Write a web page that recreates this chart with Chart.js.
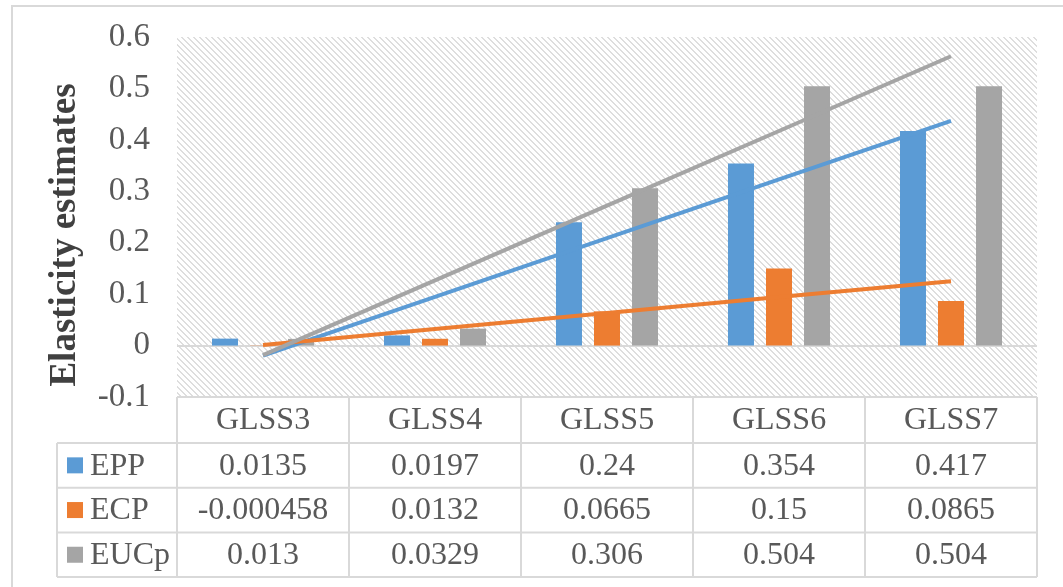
<!DOCTYPE html>
<html>
<head>
<meta charset="utf-8">
<script src="https://cdn.jsdelivr.net/npm/chart.js@4.4.1/dist/chart.umd.min.js"></script>
<style>
  body { margin: 0; background: #fff; }
  #wrap { position: relative; width: 1063px; height: 587px; overflow: hidden; }
  #frame { position: absolute; left: 11px; top: 5px; width: 1200px; height: 700px; border: 2px solid #d9d9d9; }
  #myChart { position: absolute; left: 0; top: 0; }
</style>
</head>
<body>
<div id="wrap">
  <div id="frame"></div>
  <canvas id="myChart" width="1063" height="587"></canvas>
</div>
<script>
const categories = ['GLSS3', 'GLSS4', 'GLSS5', 'GLSS6', 'GLSS7'];
const seriesNames = ['EPP', 'ECP', 'EUCp'];
const eppValues = [0.0135, 0.0197, 0.24, 0.354, 0.417];
const ecpValues = [-0.000458, 0.0132, 0.0665, 0.15, 0.0865];
const eucpValues = [0.013, 0.0329, 0.306, 0.504, 0.504];
// table text exactly as printed
const eppLabels = ['0.0135', '0.0197', '0.24', '0.354', '0.417'];
const ecpLabels = ['-0.000458', '0.0132', '0.0665', '0.15', '0.0865'];
const eucpLabels = ['0.013', '0.0329', '0.306', '0.504', '0.504'];
const yTitle = 'Elasticity estimates';

const colors = ['#5b9bd5', '#ed7d31', '#a5a5a5'];
const textColor = '#595959';
const lineColor = '#d9d9d9';
const serif = "'Liberation Serif', 'Times New Roman', serif";

// linear trendline (least squares, x = 1..n) like Excel
function trend(values) {
  const n = values.length;
  const xs = values.map((v, i) => i + 1);
  const mx = xs.reduce((a, b) => a + b, 0) / n;
  const my = values.reduce((a, b) => a + b, 0) / n;
  let sxy = 0, sxx = 0;
  xs.forEach((x, i) => { sxy += (x - mx) * (values[i] - my); sxx += (x - mx) * (x - mx); });
  const slope = sxy / sxx;
  return xs.map(x => my + slope * (x - mx));
}

// hatched background ("light downward diagonal")
function makePattern(ctx) {
  const c = document.createElement('canvas');
  c.width = 6; c.height = 6;
  const p = c.getContext('2d');
  p.fillStyle = '#fff';
  p.fillRect(0, 0, 6, 6);
  p.fillStyle = '#dedede';
  for (let y = 0; y < 6; y++) {
    p.fillRect(y % 6, y, 1, 1);
    p.fillRect((y + 1) % 6, y, 1, 1);
  }
  return ctx.createPattern(c, 'repeat');
}

const hatchPlugin = {
  id: 'hatch',
  beforeDraw(chart) {
    const { ctx, chartArea: a } = chart;
    ctx.save();
    ctx.fillStyle = makePattern(ctx);
    ctx.fillRect(a.left, a.top, a.right - a.left, a.bottom - a.top);
    ctx.restore();
  }
};

// y axis title, a bit below the plot centre like the original
const titlePlugin = {
  id: 'yTitle',
  afterDraw(chart) {
    const ctx = chart.ctx;
    ctx.save();
    ctx.translate(65, 235);
    ctx.rotate(-Math.PI / 2);
    ctx.fillStyle = '#404040';
    ctx.font = 'bold 37px ' + serif;
    ctx.textAlign = 'center';
    ctx.textBaseline = 'middle';
    ctx.fillText(yTitle, 0, 0);
    ctx.restore();
  }
};

// data table under the plot, aligned with the category scale
const tablePlugin = {
  id: 'dataTable',
  afterDraw(chart) {
    const { ctx, chartArea: a } = chart;
    const x = chart.scales.x;
    const step = (a.right - a.left) / categories.length;
    const headTop = a.bottom;
    const rowTop = headTop + 46;
    const rowH = 44.7;
    const bottom = rowTop + rowH * 3;
    const legLeft = 57;
    const rowLabels = [eppLabels, ecpLabels, eucpLabels];

    ctx.save();
    ctx.strokeStyle = lineColor;
    ctx.lineWidth = 2;
    ctx.beginPath();
    ctx.moveTo(a.left, headTop); ctx.lineTo(a.right, headTop);
    for (let r = 0; r <= 3; r++) {
      ctx.moveTo(legLeft, rowTop + rowH * r); ctx.lineTo(a.right, rowTop + rowH * r);
    }
    for (let i = 0; i <= categories.length; i++) {
      const px = a.left + step * i;
      ctx.moveTo(px, headTop); ctx.lineTo(px, bottom);
    }
    ctx.moveTo(legLeft, rowTop); ctx.lineTo(legLeft, bottom);
    ctx.stroke();

    ctx.fillStyle = textColor;
    ctx.font = '32px ' + serif;
    ctx.textAlign = 'center';
    ctx.textBaseline = 'middle';
    categories.forEach((c, i) => {
      const cx = x.getPixelForValue(i);
      ctx.fillText(c, cx, headTop + 24);
      rowLabels.forEach((labels, r) => {
        ctx.fillText(labels[i], cx, rowTop + rowH * r + rowH / 2 + 1);
      });
    });

    ctx.textAlign = 'left';
    seriesNames.forEach((name, r) => {
      const cy = rowTop + rowH * r + rowH / 2;
      ctx.fillStyle = colors[r];
      ctx.fillRect(67, cy - 8, 16, 16);
      ctx.fillStyle = textColor;
      ctx.fillText(name, 90, cy + 1);
    });
    ctx.restore();
  }
};

const barValues = [eppValues, ecpValues, eucpValues];

const datasets = [];
seriesNames.forEach((name, i) => {
  datasets.push({
    type: 'line',
    label: name + ' trend',
    data: trend(barValues[i]),
    borderColor: colors[i],
    borderWidth: 4,
    pointRadius: 0,
    fill: false,
    order: 3 - i
  });
});
seriesNames.forEach((name, i) => {
  datasets.push({
    type: 'bar',
    label: name,
    data: barValues[i],
    backgroundColor: colors[i],
    categoryPercentage: 0.663,
    barPercentage: 0.684,
    order: 10
  });
});

const ctx = document.getElementById('myChart').getContext('2d');
new Chart(ctx, {
  data: { labels: categories, datasets: datasets },
  options: {
    responsive: false,
    animation: false,
    layout: { padding: { left: 0, top: 37, right: 26, bottom: 190 } },
    scales: {
      x: { display: false },
      y: {
        min: -0.1,
        max: 0.6,
        afterFit(scale) {
          scale.width = 177;
          scale.paddingTop = 0;
          scale.paddingBottom = 0;
        },
        ticks: {
          stepSize: 0.1,
          padding: 27,
          color: textColor,
          font: { family: serif, size: 33 },
          callback: v => String(Math.round(v * 10) / 10)
        },
        grid: {
          drawTicks: false,
          lineWidth: 2,
          color: c => (c.tick && Math.abs(c.tick.value) < 1e-9 ? lineColor : 'transparent')
        },
        border: { display: false }
      }
    },
    plugins: {
      legend: { display: false },
      tooltip: { enabled: true }
    }
  },
  plugins: [hatchPlugin, tablePlugin, titlePlugin]
});
</script>
</body>
</html>
